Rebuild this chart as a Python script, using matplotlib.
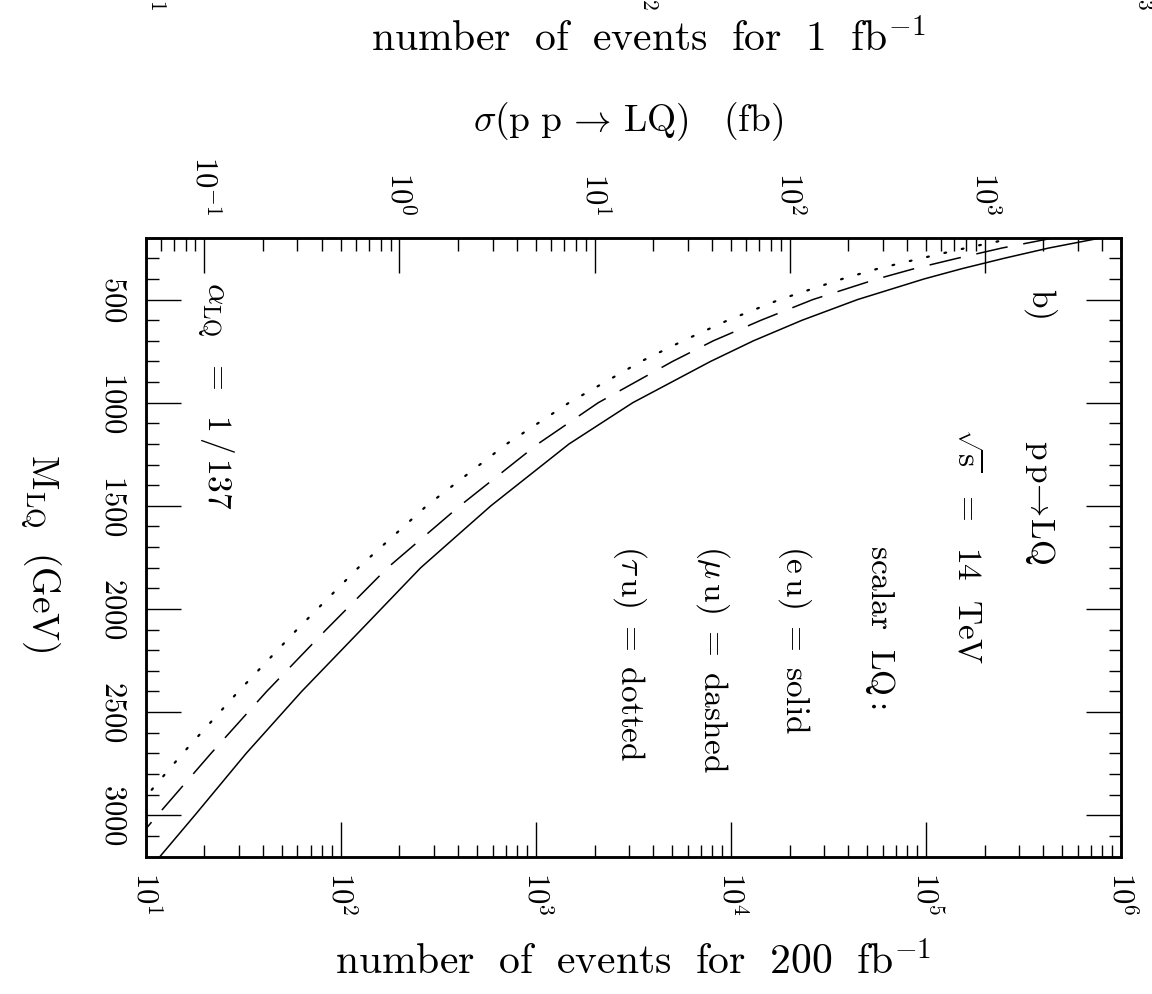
import matplotlib
matplotlib.use('Agg')
import matplotlib.pyplot as plt
from matplotlib.ticker import FixedLocator, LogLocator, NullFormatter
import numpy as np

plt.rcParams['mathtext.fontset'] = 'cm'
plt.rcParams['font.family'] = ['DejaVu Serif']

LUMI = 200.0  # fb^-1

# scalar LQ, (e u) coupling -> solid ; sigma(pp->LQ) in fb vs M_LQ in GeV
mass_eu = [200, 250, 300, 350, 400, 500, 600, 700, 800, 1000, 1200, 1500, 1800, 2100, 2400, 2700, 3000, 3200]
sigma_eu = [4000, 2133, 1256, 766, 489, 223, 116, 65.2, 39.3, 15.7, 7.40, 2.94, 1.285, 0.637, 0.315, 0.1637, 0.0893, 0.0592]

# (mu u) -> dashed
mass_mu = [200, 250, 300, 350, 400, 500, 600, 700, 800, 1000, 1200, 1500, 1800, 2100, 2400, 2700, 3000, 3100]
sigma_mu = [2286, 1227, 723, 436, 281, 131.5, 71.4, 40.6, 25.1, 10.45, 5.12, 2.04, 0.869, 0.421, 0.2084, 0.1081, 0.0574, 0.0467]

# (tau u) -> dotted
mass_tau = [200, 250, 300, 350, 400, 500, 600, 700, 800, 1000, 1200, 1500, 1800, 2100, 2400, 2700, 2950]
sigma_tau = [1442, 802, 472, 284, 186, 88.9, 48.3, 28.4, 17.3, 7.40, 3.54, 1.377, 0.615, 0.298, 0.1493, 0.0774, 0.0461]

xticks_events = [1e1, 1e2, 1e3, 1e4, 1e5, 1e6]
xtick_labels_events = [r'$10^{1}$', r'$10^{2}$', r'$10^{3}$', r'$10^{4}$', r'$10^{5}$', r'$10^{6}$']
xticks_sigma = [1e-1, 1e0, 1e1, 1e2, 1e3]
xtick_labels_sigma = [r'$10^{-1}$', r'$10^{0}$', r'$10^{1}$', r'$10^{2}$', r'$10^{3}$']
yticks_mass = [500, 1000, 1500, 2000, 2500, 3000]
ytick_labels_mass = ['$500$', '$1000$', '$1500$', '$2000$', '$2500$', '$3000$']

W, H = 1152, 994
fig = plt.figure(figsize=(W / 100, H / 100), dpi=100)
L, R, T, B = 145.7, 1121.0, 237.7, 856.5
ax = fig.add_axes([L / W, 1 - B / H, (R - L) / W, (B - T) / H])

ax.set_xscale('log')
ax.set_xlim(10, 1e6)
ax.set_ylim(3200, 200)

ax.plot(np.array(sigma_eu) * LUMI, mass_eu, color='black', lw=1.1)
ax.plot(np.array(sigma_mu) * LUMI, mass_mu, color='black', lw=1.1, dashes=(21, 10.4))
ax.plot(np.array(sigma_tau) * LUMI, mass_tau, color='black', lw=1.6, dashes=(0.8, 7.2),
        dash_capstyle='round')

tick_fs = 22
ax.set_xticks(xticks_events)
ax.set_xticklabels(xtick_labels_events, rotation=-90, fontsize=tick_fs)
ax.xaxis.set_minor_locator(LogLocator(base=10, subs=np.arange(2, 10)))
ax.xaxis.set_minor_formatter(NullFormatter())
ax.set_yticks(yticks_mass)
ax.set_yticklabels(ytick_labels_mass, rotation=-90, fontsize=tick_fs, va='center')
ax.yaxis.set_minor_locator(FixedLocator(np.arange(200, 3201, 100)))

ax.tick_params(axis='x', which='both', direction='in', top=False, bottom=True, width=1.0)
ax.tick_params(axis='x', which='major', length=25, pad=11)
ax.tick_params(axis='x', which='minor', length=9)
ax.tick_params(axis='y', which='both', direction='in', left=True, right=True, width=1.0)
ax.tick_params(axis='y', which='major', length=25, pad=12)
ax.tick_params(axis='y', which='minor', length=9)

ax2 = ax.twiny()
ax2.set_xscale('log')
ax2.set_xlim(10 / LUMI, 1e6 / LUMI)
ax2.set_xticks(xticks_sigma)
ax2.set_xticklabels(xtick_labels_sigma, rotation=-90, fontsize=tick_fs)
ax2.xaxis.set_minor_locator(LogLocator(base=10, subs=np.arange(2, 10)))
ax2.xaxis.set_minor_formatter(NullFormatter())
ax2.tick_params(axis='x', which='both', direction='in', top=True, bottom=False,
                labeltop=True, labelbottom=False, width=1.0)
ax2.tick_params(axis='x', which='major', length=25, pad=16)
ax2.tick_params(axis='x', which='minor', length=9)

for a in (ax, ax2):
    for sp in a.spines.values():
        sp.set_linewidth(1.8)

lab_fs = 27
big_fs = 30
fig.text(633 / W, 1 - 963 / H,
         r'$\mathrm{number\ \ of\ \ events\ \ for\ \ 200\ \ fb}^{-1}$',
         ha='center', va='center', fontsize=big_fs)
fig.text(628 / W, 1 - 122 / H,
         r'$\sigma(\mathrm{p\ p}\,\rightarrow\,\mathrm{LQ})\ \ \ (\mathrm{fb})$',
         ha='center', va='center', fontsize=lab_fs)
fig.text(648 / W, 1 - 40 / H,
         r'$\mathrm{number\ \ of\ \ events\ \ for\ \ 1\ \ fb}^{-1}$',
         ha='center', va='center', fontsize=big_fs)
fig.text(40 / W, 1 - 553 / H, r'$\mathrm{M}_{\mathrm{LQ}}\ \ \mathrm{(GeV)}$',
         ha='center', va='center', rotation=-90, fontsize=lab_fs)

# cropped tick labels of the panel above (cut by the top edge, as in the original)
for xp, lab in [(148, r'$10^{1}$'), (640, r'$10^{2}$'), (1135, r'$10^{3}$')]:
    fig.text(xp / W, 1 - 11 / H, lab, ha='center', va='bottom', rotation=-90, fontsize=tick_fs)

txt_fs = 24
def rtext(xp, yp, s):
    fig.text(xp / W, 1 - yp / H, s, ha='center', va='top', rotation=-90, fontsize=txt_fs)

rtext(1040, 288, r'$\mathrm{b)}$')
rtext(1040, 440, r'$\mathrm{p\,p}\!\rightarrow\!\mathrm{LQ}$')
rtext(968, 428, r'$\sqrt{\mathrm{s}}\ \ =\ \ 14\ \ \mathrm{TeV}$')
rtext(880, 545, r'$\mathrm{scalar\ \ LQ:}$')
rtext(795, 545, r'$(\mathrm{e\,u})\ =\ \mathrm{solid}$')
rtext(713, 545, r'$(\mu\,\mathrm{u})\ =\ \mathrm{dashed}$')
rtext(630, 545, r'$(\tau\,\mathrm{u})\ =\ \mathrm{dotted}$')
rtext(215, 282, r'$\alpha_{\mathrm{LQ}}\ \ =\ \ 1\,/\,137$')

fig.savefig('out.png', dpi=100)
